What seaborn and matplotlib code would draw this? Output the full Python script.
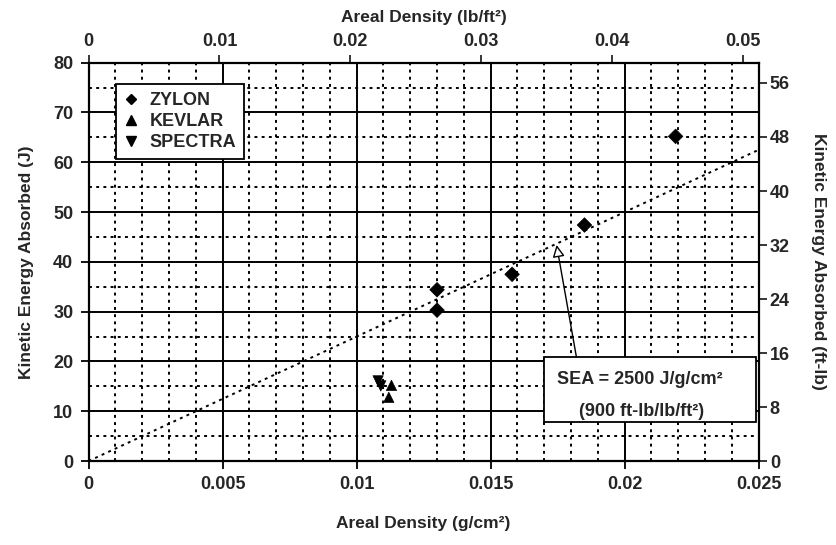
import numpy as np
import pandas as pd
import seaborn as sns
import matplotlib
matplotlib.use("Agg")
import matplotlib.pyplot as plt
from matplotlib.lines import Line2D
from matplotlib.patches import Rectangle

# ---- data ----
zylon_x = [0.0130, 0.0130, 0.0158, 0.0185, 0.0219]
zylon_y = [30.3, 34.4, 37.5, 47.4, 65.2]
kevlar_x = [0.0113, 0.0112]
kevlar_y = [15.2, 12.8]
spectra_x = [0.0108, 0.0109]
spectra_y = [16.1, 15.1]
materials = ["ZYLON", "KEVLAR", "SPECTRA"]
sea_value = 2500.0          # J/(g/cm^2)
sea_x = [0.0, 0.025]
x_ticks = [0, 0.005, 0.01, 0.015, 0.02, 0.025]
x_tick_labels = ["0", "0.005", "0.01", "0.015", "0.02", "0.025"]
y_ticks = [0, 10, 20, 30, 40, 50, 60, 70, 80]
top_ticks = [0, 0.01, 0.02, 0.03, 0.04, 0.05]
top_tick_labels = ["0", "0.01", "0.02", "0.03", "0.04", "0.05"]
right_ticks = [0, 8, 16, 24, 32, 40, 48, 56]
GCM2_TO_LBFT2 = 2.048
J_TO_FTLB = 0.7376

df = pd.DataFrame({
    "x": zylon_x + kevlar_x + spectra_x,
    "y": zylon_y + kevlar_y + spectra_y,
    "material": ["ZYLON"] * len(zylon_x) + ["KEVLAR"] * len(kevlar_x) + ["SPECTRA"] * len(spectra_x),
})
line_df = pd.DataFrame({"x": sea_x, "y": [sea_value * v for v in sea_x]})

sns.set_theme(style="white")
plt.rcParams["font.family"] = ["Liberation Sans", "DejaVu Sans"]
plt.rcParams["font.weight"] = "bold"
plt.rcParams["axes.labelweight"] = "bold"

fig = plt.figure(figsize=(8.36, 5.45), dpi=100)
ax = fig.add_axes([0.106, 0.154, 0.8015, 0.731])

marker_map = {"ZYLON": "D", "KEVLAR": "^", "SPECTRA": "v"}
sns.lineplot(data=line_df, x="x", y="y", ax=ax, color="black", lw=1.4,
             linestyle=(0, (1.5, 2.2)), zorder=3)
sns.scatterplot(data=df, x="x", y="y", style="material", markers=marker_map,
                style_order=materials, color="black", s=55, edgecolor="black",
                linewidth=0.5, ax=ax, legend=False, zorder=5)

ax.set_xlim(0, 0.025)
ax.set_ylim(0, 80)
ax.set_xticks(x_ticks)
ax.set_xticklabels(x_tick_labels)
ax.set_xticks(np.arange(0, 0.0251, 0.001), minor=True)
ax.set_yticks(y_ticks)
ax.set_yticks(np.arange(0, 81, 5), minor=True)

ax.grid(which="major", color="black", lw=1.4, ls="-", zorder=0)
ax.grid(which="minor", color="black", lw=1.4, ls=(0, (1.5, 2.2)), zorder=0)
ax.set_axisbelow(True)

for s in ax.spines.values():
    s.set_color("black")
    s.set_linewidth(1.6)

ax.tick_params(which="major", direction="out", length=6, width=1.3, color="black",
               labelsize=13, pad=5, bottom=True, left=True)
ax.tick_params(which="minor", length=0)
for lab in ax.get_xticklabels() + ax.get_yticklabels():
    lab.set_fontweight("bold")

ax.set_xlabel("Areal Density (g/cm²)", fontsize=12.5, fontweight="bold", labelpad=16)
ax.set_ylabel("Kinetic Energy Absorbed (J)", fontsize=12.5, fontweight="bold", labelpad=14)

# top axis (lb/ft^2)
top = ax.secondary_xaxis("top", functions=(lambda v: v * GCM2_TO_LBFT2,
                                           lambda v: v / GCM2_TO_LBFT2))
top.set_xticks(top_ticks)
top.set_xticklabels(top_tick_labels)
top.tick_params(direction="out", length=6, width=1.3, labelsize=13, pad=3)
for lab in top.get_xticklabels():
    lab.set_fontweight("bold")
top.set_xlabel("Areal Density (lb/ft²)", fontsize=12.5, fontweight="bold", labelpad=8)

# right axis (ft-lb)
right = ax.secondary_yaxis("right", functions=(lambda v: v * J_TO_FTLB,
                                               lambda v: v / J_TO_FTLB))
right.set_yticks(right_ticks)
right.tick_params(direction="out", length=6, width=1.3, labelsize=13, pad=2)
for lab in right.get_yticklabels():
    lab.set_fontweight("bold")
right.set_ylabel("Kinetic Energy Absorbed (ft-lb)", fontsize=12.5, fontweight="bold",
                 rotation=270, labelpad=26)

# legend
handles = [Line2D([], [], ls="none", marker=marker_map[m], color="black",
                  markersize=5.5 if m == "ZYLON" else 6.5, label=m) for m in materials]
leg = ax.legend(handles=handles, loc="upper left", bbox_to_anchor=(0.041, 0.946),
                borderaxespad=0, frameon=True, fancybox=False, framealpha=1,
                edgecolor="black", fontsize=13, handlelength=0.8,
                handletextpad=0.6, labelspacing=0.22, borderpad=0.45)
leg.get_frame().set_linewidth(1.3)
for t in leg.get_texts():
    t.set_fontweight("bold")
leg.set_zorder(10)

# SEA annotation box
box = Rectangle((0.01699, 7.8), 0.0249 - 0.01699, 20.9 - 7.8, facecolor="white",
                edgecolor="black", lw=1.3, zorder=8)
ax.add_patch(box)
ax.text(0.02057, 16.3, "SEA = 2500 J/g/cm²", ha="center", va="center",
        fontsize=13, fontweight="bold", zorder=9)
ax.text(0.02063, 10.0, "(900 ft-lb/lb/ft²)", ha="center", va="center",
        fontsize=13, fontweight="bold", zorder=9)
ax.annotate("", xy=(0.01746, 43.4), xytext=(0.0182, 20.9),
            arrowprops=dict(arrowstyle="-|>", fc="white", ec="black", lw=1.0,
                            mutation_scale=18, shrinkA=0, shrinkB=0), zorder=7)

fig.savefig("out.png", dpi=100)
